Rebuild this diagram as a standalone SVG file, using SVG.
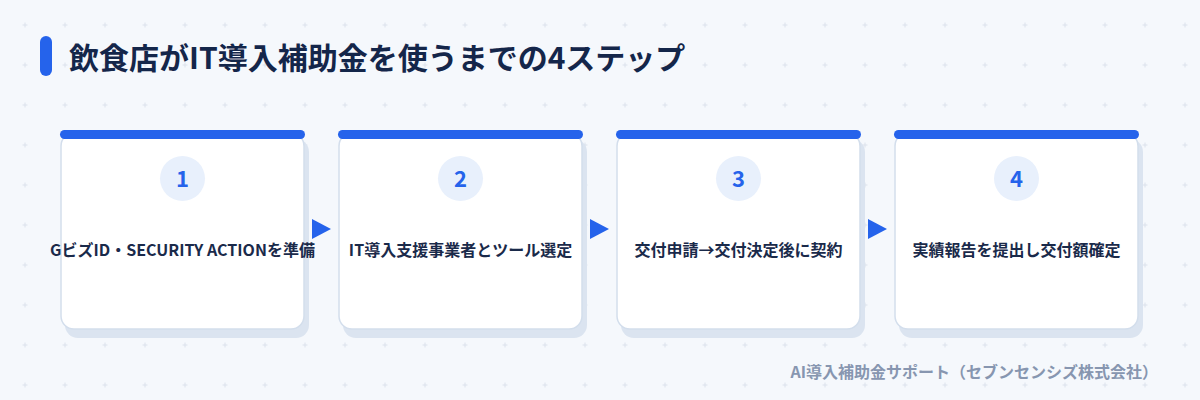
<svg xmlns="http://www.w3.org/2000/svg" width="1200" height="400" viewBox="0 0 1200 400">
  <style>
    .jp { font-family: "Noto Sans CJK JP", "Noto Sans", sans-serif; font-weight: 700; }
    .title { font-size: 30px; fill: #14264a; }
    .label { font-size: 16px; fill: #1a2a4a; text-anchor: middle; }
    .num { font-size: 22px; fill: #2563eb; text-anchor: middle; }
    .footer { font-size: 16px; fill: #8796b0; text-anchor: end; }
    .shadow { fill: #dbe4f0; }
    .card { fill: #ffffff; stroke: #d3deec; stroke-width: 1.5; }
    .bar { fill: #2563eb; }
    .circ { fill: #e8f0fc; }
    .arrow { fill: #2563eb; }
  </style>
  <defs>
    <pattern id="grid" x="5" y="5" width="40" height="40" patternUnits="userSpaceOnUse">
      <path d="M17.5 20 H22.5 M20 17.5 V22.5" stroke="#dce2ec" stroke-width="1"/>
    </pattern>
  </defs>
  <rect width="1200" height="400" fill="#f5f8fc"/>
  <rect width="1200" height="400" fill="url(#grid)"/>

  <g id="title">
    <rect x="40" y="36" width="12" height="40" rx="6" fill="#2563eb"/>
    <text class="jp title" x="69" y="69">飲食店がIT導入補助金を使うまでの4ステップ</text>
  </g>

  <g id="step1">
    <rect class="shadow" x="65" y="139" width="244" height="199" rx="13"/>
    <rect class="card" x="61" y="133" width="243" height="196" rx="13"/>
    <rect class="bar" x="60" y="130" width="245" height="9" rx="4.5"/>
    <circle class="circ" cx="182.5" cy="178.5" r="22.5"/>
    <text class="jp num" x="182.5" y="186.5">1</text>
    <text class="jp label" x="182.5" y="256">GビズID・SECURITY ACTIONを準備</text>
  </g>

  <g id="step2">
    <rect class="shadow" x="343" y="139" width="244" height="199" rx="13"/>
    <rect class="card" x="339" y="133" width="243" height="196" rx="13"/>
    <rect class="bar" x="338" y="130" width="245" height="9" rx="4.5"/>
    <circle class="circ" cx="460.5" cy="178.5" r="22.5"/>
    <text class="jp num" x="460.5" y="186.5">2</text>
    <text class="jp label" x="460.5" y="256">IT導入支援事業者とツール選定</text>
  </g>

  <g id="step3">
    <rect class="shadow" x="621" y="139" width="244" height="199" rx="13"/>
    <rect class="card" x="617" y="133" width="243" height="196" rx="13"/>
    <rect class="bar" x="616" y="130" width="245" height="9" rx="4.5"/>
    <circle class="circ" cx="738.5" cy="178.5" r="22.5"/>
    <text class="jp num" x="738.5" y="186.5">3</text>
    <text class="jp label" x="738.5" y="256">交付申請→交付決定後に契約</text>
  </g>

  <g id="step4">
    <rect class="shadow" x="899" y="139" width="244" height="199" rx="13"/>
    <rect class="card" x="895" y="133" width="243" height="196" rx="13"/>
    <rect class="bar" x="894" y="130" width="245" height="9" rx="4.5"/>
    <circle class="circ" cx="1016.5" cy="178.5" r="22.5"/>
    <text class="jp num" x="1016.5" y="186.5">4</text>
    <text class="jp label" x="1016.5" y="256">実績報告を提出し交付額確定</text>
  </g>

  <g id="connectors">
    <polygon class="arrow" points="312,219 331,229 312,239"/>
    <polygon class="arrow" points="590,219 609,229 590,239"/>
    <polygon class="arrow" points="868,219 887,229 868,239"/>
  </g>

  <text class="jp footer" x="1158" y="378">AI導入補助金サポート（セブンセンシズ株式会社）</text>
</svg>
